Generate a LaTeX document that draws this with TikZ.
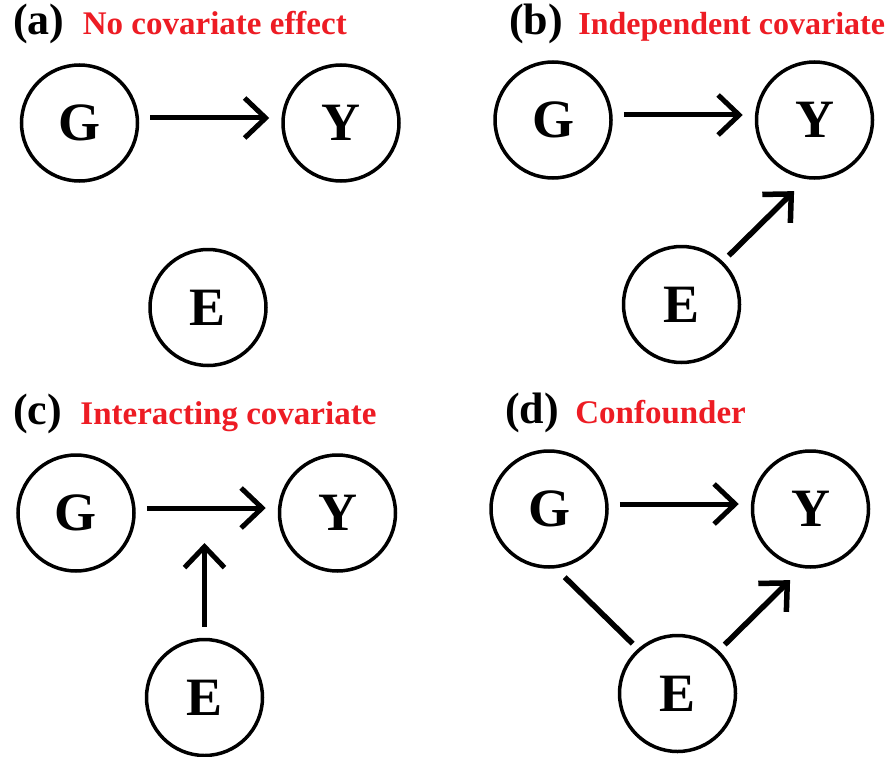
\documentclass[tikz,border=0pt]{standalone}
\usepackage{fontspec}
\setmainfont{Liberation Serif}
\usetikzlibrary{arrows.meta,positioning,calc}
\definecolor{titlered}{RGB}{237,28,36}

\begin{document}
\begin{tikzpicture}[
    x=1pt, y=1pt,
    node distance=142pt,
    var/.style={draw, circle, line width=3.5pt, minimum size=116pt, inner sep=0pt, font=\fontsize{54}{54}\selectfont\bfseries},
    tag/.style={inner sep=0pt, anchor=base west, font=\fontsize{44}{44}\selectfont\bfseries},
    heading/.style={inner sep=0pt, text=titlered, font=\fontsize{33}{33}\selectfont\bfseries},
    flow/.style={-{Straight Barb[length=21pt, width=40pt]}, line width=5pt},
    gap/.style={shorten <=11pt, shorten >=12pt},
    link/.style={line width=5.5pt}
]
\useasboundingbox (0,0) rectangle (894,-757);

% the three variables of each panel
\foreach \p/\gx/\gy in {a/79.5/-123, b/553/-120, c/76/-513, d/549/-509} {
  \node[var] (G\p) at (\gx,\gy) {G};
  \node[var, right=of G\p] (Y\p) {Y};
  \node[var] (E\p) at ($(G\p)+(128.5,-184.5)$) {E};
}

% panel titles
\node[tag] (taga) at (13,-35) {(a)};
\node[heading, base right=18pt of taga] (headinga) {No covariate effect};
\node[tag] (tagb) at (509,-35) {(b)};
\node[heading, base right=15pt of tagb, font=\fontsize{32}{32}\selectfont\bfseries] (headingb) {Independent covariate};
\node[tag] (tagc) at (13,-424) {(c)};
\node[heading, base right=18pt of tagc] (headingc) {Interacting covariate};
\node[tag] (tagd) at (505,-423) {(d)};
\node[heading, base right=16pt of tagd] (headingd) {Confounder};

% (a)
\draw[flow, gap] ([yshift=5pt]Ga.east) -- ([yshift=5pt]Ya.west);

% (b)
\draw[flow, gap] ([yshift=5pt]Gb.east) -- ([yshift=5pt]Yb.west);
\draw[flow, line width=5.5pt] ($(Eb)+(46:68)$) -- ($(Yb)+(254:74)$);

% (c)
\draw[flow, gap] ([yshift=5pt]Gc.east) -- coordinate[pos=.5] (midc) ([yshift=5pt]Yc.west);
\draw[flow, shorten <=11pt, shorten >=35pt] (Ec.north) -- (Ec.north |- midc);

% (d)
\draw[flow, gap] ([yshift=5pt]Gd.east) -- ([yshift=5pt]Yd.west);
\draw[link] ($(Gd)+(283:70)$) -- ($(Ed)+(132:67)$);
\draw[flow, line width=5.5pt] ($(Ed)+(46:68)$) -- ($(Yd)+(254:74)$);
\end{tikzpicture}
\end{document}
